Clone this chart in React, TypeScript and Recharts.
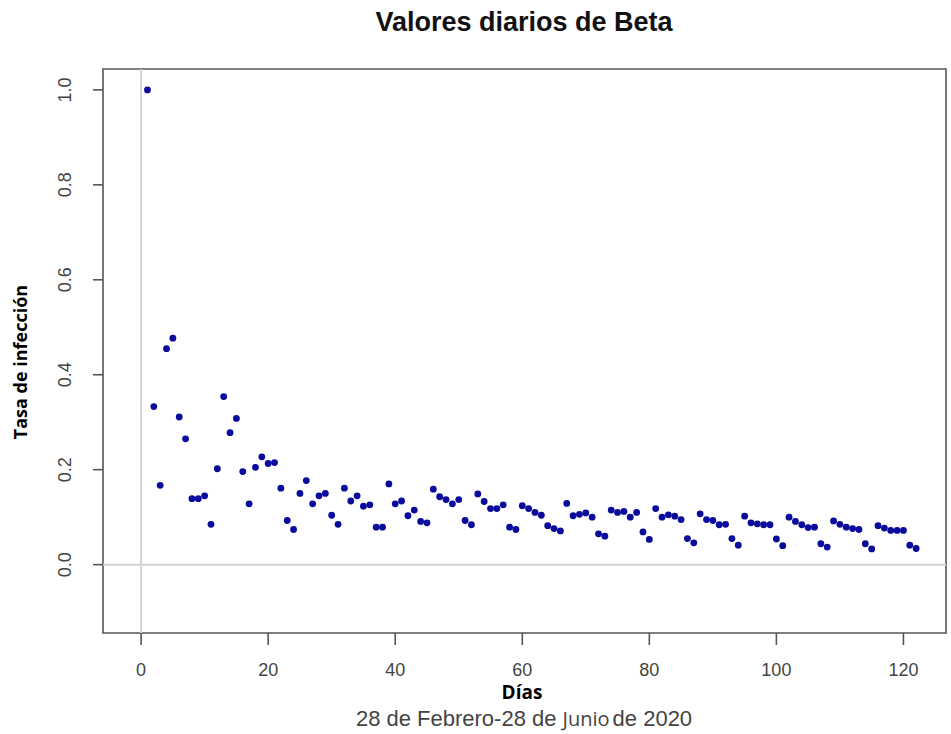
import { ScatterChart, Scatter, XAxis, YAxis, ReferenceLine, ReferenceArea } from "recharts";

// Tasa de infección (beta) estimada para cada día, 28 feb – 28 jun 2020
const betaDiaria = [
  1.0, 0.333, 0.167, 0.455, 0.477, 0.311, 0.265, 0.139, 0.139, 0.145,
  0.085, 0.202, 0.354, 0.278, 0.308, 0.196, 0.128, 0.205, 0.227, 0.213,
  0.215, 0.161, 0.093, 0.074, 0.15, 0.177, 0.128, 0.145, 0.15, 0.104,
  0.085, 0.161, 0.134, 0.145, 0.123, 0.126, 0.079, 0.079, 0.17, 0.128,
  0.134, 0.103, 0.115, 0.091, 0.088, 0.159, 0.143, 0.137, 0.128, 0.137,
  0.093, 0.084, 0.149, 0.133, 0.118, 0.118, 0.126, 0.079, 0.074, 0.124,
  0.118, 0.11, 0.104, 0.082, 0.076, 0.071, 0.129, 0.103, 0.106, 0.109,
  0.1, 0.065, 0.06, 0.115, 0.11, 0.112, 0.1, 0.11, 0.069, 0.053,
  0.118, 0.1, 0.105, 0.102, 0.095, 0.055, 0.046, 0.107, 0.095, 0.093,
  0.084, 0.085, 0.055, 0.041, 0.102, 0.088, 0.086, 0.084, 0.084, 0.054,
  0.04, 0.1, 0.091, 0.084, 0.078, 0.079, 0.044, 0.037, 0.092, 0.085,
  0.079, 0.076, 0.074, 0.044, 0.033, 0.082, 0.077, 0.072, 0.072, 0.072,
  0.041, 0.034,
];

const ticksDias = [0, 20, 40, 60, 80, 100, 120];
const ticksBeta = [0, 0.2, 0.4, 0.6, 0.8, 1.0];

const dominioDias: [number, number] = [-6, 126.7];
const dominioBeta: [number, number] = [-0.144, 1.044];

const data = betaDiaria.map((beta, i) => ({ dia: i + 1, beta }));

const AXIS_GRAY = "#555";
const TEXT_GRAY = "#444";
const R_FONT = "'Liberation Sans', Arial, sans-serif";
const LABEL_FONT = "'Open Sans', 'Noto Sans', sans-serif";

const XTick = ({ x, y, payload }: any) => (
  <text x={x} y={y} dy={29} textAnchor="middle" fontSize={18} fill={TEXT_GRAY} fontFamily={R_FONT}>
    {payload.value}
  </text>
);

const YTick = ({ x, y, payload }: any) => {
  const tx = x - 20;
  return (
    <text
      x={tx}
      y={y}
      textAnchor="middle"
      fontSize={18}
      fill={TEXT_GRAY}
      fontFamily={R_FONT}
      transform={`rotate(-90, ${tx}, ${y})`}
    >
      {Number(payload.value).toFixed(1)}
    </text>
  );
};

const Punto = ({ cx, cy }: any) => <circle cx={cx} cy={cy} r={3.4} fill="#0a0a9c" />;

export default function App() {
  return (
    <div style={{ position: "absolute", left: 0, top: 0, width: 951, height: 734, background: "#fff" }}>
      <ScatterChart width={951} height={734} margin={{ top: 69, right: 5, bottom: 61, left: 43 }}>
        <XAxis
          type="number"
          dataKey="dia"
          domain={dominioDias}
          ticks={ticksDias}
          tick={<XTick />}
          tickSize={12}
          height={40}
          axisLine={false}
          tickLine={{ stroke: AXIS_GRAY, strokeWidth: 1.6 }}
          allowDataOverflow
        />
        <YAxis
          type="number"
          dataKey="beta"
          domain={dominioBeta}
          ticks={ticksBeta}
          tick={<YTick />}
          tickSize={10}
          width={60}
          axisLine={false}
          tickLine={{ stroke: AXIS_GRAY, strokeWidth: 1.6 }}
          allowDataOverflow
        />
        <ReferenceLine x={0} stroke="#d2d2d2" strokeWidth={2} />
        <ReferenceLine y={0} stroke="#d2d2d2" strokeWidth={2} />
        {/* marco completo del gráfico, estilo R */}
        <ReferenceArea
          x1={dominioDias[0]}
          x2={dominioDias[1]}
          y1={dominioBeta[0]}
          y2={dominioBeta[1]}
          fill="none"
          fillOpacity={0}
          stroke={AXIS_GRAY}
          strokeWidth={1.6}
          ifOverflow="visible"
        />
        <Scatter data={data} shape={<Punto />} isAnimationActive={false} />
      </ScatterChart>
      <svg width={951} height={734} style={{ position: "absolute", left: 0, top: 0, pointerEvents: "none" }}>
        <text x={524} y={31} textAnchor="middle" fontSize={27} fontWeight="bold" fill="#111" fontFamily={R_FONT}>
          Valores diarios de Beta
        </text>
        <text
          x={27}
          y={362}
          textAnchor="middle"
          fontSize={18}
          fontWeight="bold"
          fill="#000"
          fontFamily={LABEL_FONT}
          transform="rotate(-90, 27, 362)"
        >
          Tasa de infección
        </text>
        <text x={522} y={699} textAnchor="middle" fontSize={19} fontWeight="bold" fill="#000" fontFamily={LABEL_FONT}>
          Días
        </text>
        <text x={524} y={726} textAnchor="middle" fontSize={22} fill={TEXT_GRAY} fontFamily={R_FONT}>
          28 de Febrero-28 de <tspan fontFamily="'Open Sans', sans-serif" fontSize={20}>Junio</tspan>
          <tspan dx={3}>de 2020</tspan>
        </text>
      </svg>
    </div>
  );
}
